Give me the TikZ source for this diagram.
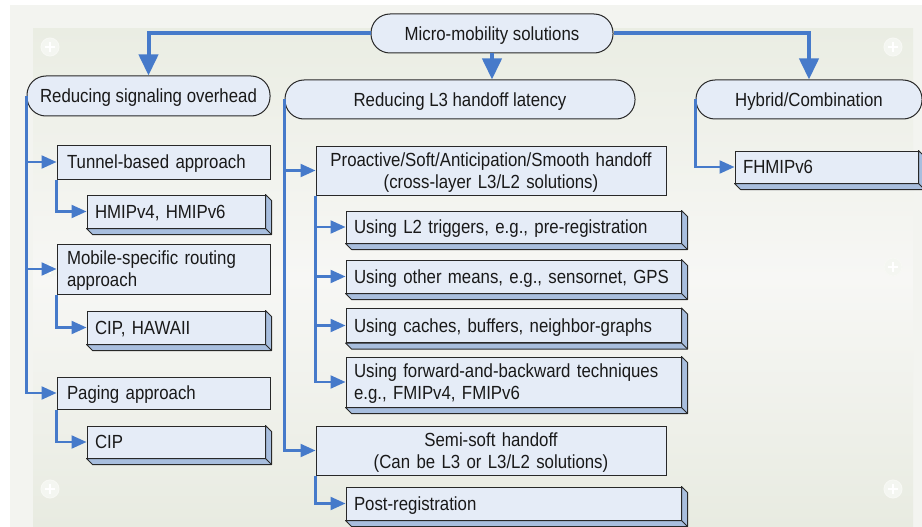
\documentclass[tikz,border=0pt]{standalone}
\usepackage{fontspec}
\setmainfont{Liberation Sans}[FakeStretch=0.885]
\usetikzlibrary{arrows.meta,calc}

\definecolor{linkblue}{RGB}{70,122,202}
\definecolor{facefill}{RGB}{229,236,247}
\definecolor{sidefill}{RGB}{168,190,222}
\definecolor{edgegray}{RGB}{40,40,40}
\definecolor{panelout}{RGB}{243,244,240}
\definecolor{paneltop}{RGB}{234,237,227}
\definecolor{panelmid}{RGB}{247,247,245}
\definecolor{panelbot}{RGB}{232,235,225}

\tikzset{
  every node/.style={font=\fontsize{19}{22}\selectfont, text=black!90, text depth=0pt},
  twolines/.style={text depth=22pt},
  topbox/.style={draw=edgegray, line width=1pt, fill=facefill, rounded corners=19pt,
    inner sep=0pt, align=center},
  flatbox/.style={draw=edgegray, line width=1pt, fill=facefill, inner xsep=10pt,
    inner ysep=0pt, align=left},
  centerbox/.style={draw=edgegray, line width=1pt, fill=facefill, inner xsep=10pt,
    inner ysep=0pt, align=center},
  slab/.style={draw=edgegray, line width=1pt, fill=facefill, inner xsep=8pt,
    inner ysep=0pt, align=left},
  mainlink/.style={draw=linkblue, line width=4pt, -{Triangle[length=21pt,width=19pt]}},
  sublink/.style={draw=linkblue, line width=2.2pt, -{Triangle[length=15pt,width=13pt]}},
  depthface/.style={fill=sidefill, draw=edgegray, line width=1pt, line join=round},
  deco/.style={fill=white!50!paneltop, draw=white!60!paneltop, line width=1pt},
}

% raised edge of a box: bottom and right faces pushed 6px down-right
\newcommand\slabdepth[1]{%
  \draw[depthface] (#1.south west) -- ([shift={(6,6)}]#1.south west)
    -- ([shift={(6,6)}]#1.south east) -- ([shift={(6,6)}]#1.north east)
    -- (#1.north east) -- (#1.south east) -- cycle;
  \draw[edgegray, line width=1pt] (#1.south east) -- ([shift={(6,6)}]#1.south east);
}

\begin{document}
\begin{tikzpicture}[x=1pt, y=-1pt]
  % page and panel
  \useasboundingbox (0,0) rectangle (922,527);
  \fill[white] (0,0) rectangle (922,527);
  \fill[panelout] (10,5) rectangle (922,527);
  \shade[top color=paneltop, bottom color=panelbot, middle color=panelmid]
    (33,29) rectangle (913,527);

  % faint round ornaments on the panel
  \foreach \px/\py in {50/47, 893/47, 50/269, 893/267, 50/489, 893/489}{
    \fill[deco] (\px,\py) circle (9);
    \draw[white, line width=1.6pt] (\px-5,\py) -- (\px+5,\py) (\px,\py-5) -- (\px,\py+5);
  }

  % top level
  \node[topbox, minimum width=242pt, minimum height=39pt] (micro) at (492,33.5) {Micro-mobility solutions};
  \node[topbox, minimum width=243pt, minimum height=40pt] (rso) at (148.5,96) {Reducing signaling overhead};
  \node[topbox, minimum width=350pt, minimum height=39pt] (rl3) at (460,99.5) {Reducing L3 handoff latency};
  \node[topbox, minimum width=226pt, minimum height=39pt] (hyb) at (809,99.5) {Hybrid/Combination};

  % left column
  \node[flatbox, text width=193pt, minimum height=34pt] (tunnel) at (163.5,162) {Tunnel-based approach};
  \node[slab, text width=162pt, minimum height=33pt] (hmip) at (176,211.5) {HMIPv4, HMIPv6};
  \node[flatbox, twolines, text width=193pt, minimum height=50pt] (mobile) at (163.5,269) {Mobile-specific routing\\approach};
  \node[slab, text width=162pt, minimum height=33pt] (ciph) at (176,327.5) {CIP, HAWAII};
  \node[flatbox, text width=193pt, minimum height=32pt] (paging) at (163.5,393) {Paging approach};
  \node[slab, text width=162pt, minimum height=32pt] (cip) at (176,442) {CIP};

  % middle column
  \node[centerbox, twolines, text width=330pt, minimum height=49pt] (proactive) at (491,170.5)
    {Proactive/Soft/Anticipation/Smooth handoff\\(cross-layer L3/L2 solutions)};
  \node[slab, text width=319pt, minimum height=32pt] (ltwo) at (513.5,227) {Using L2 triggers, e.g., pre-registration};
  \node[slab, text width=319pt, minimum height=33pt] (other) at (513.5,276.5) {Using other means, e.g., sensornet, GPS};
  \node[slab, text width=319pt, minimum height=34pt] (caches) at (513.5,325.5) {Using caches, buffers, neighbor-graphs};
  \node[slab, twolines, text width=319pt, minimum height=50pt] (fwd) at (513.5,382) {Using forward-and-backward techniques\\e.g., FMIPv4, FMIPv6};
  \node[centerbox, twolines, text width=330pt, minimum height=49pt] (semi) at (491,450.5)
    {Semi-soft handoff\\(Can be L3 or L3/L2 solutions)};
  \node[slab, text width=319pt, minimum height=33pt] (post) at (513.5,503.5) {Post-registration};

  % right column
  \node[slab, text width=167pt, minimum height=32pt] (fh) at (826.5,167) {FHMIPv6};

  % raised edges
  \foreach \n in {hmip, ciph, cip, ltwo, other, caches, fwd, post, fh}{\slabdepth{\n}}

  % main links
  \draw[mainlink] (micro.west) -| (rso.north);
  \draw[mainlink] (micro.east) -| (hyb.north);
  \draw[mainlink] (micro.south) -- (micro.south |- rl3.north);

  % left branches
  \draw[sublink] (rso.west) |- (tunnel.west);
  \draw[sublink] (rso.west) |- (mobile.west);
  \draw[sublink] (rso.west) |- (paging.west);
  \draw[sublink] (tunnel.south west) |- (hmip.west);
  \draw[sublink] (mobile.south west) |- (ciph.west);
  \draw[sublink] (paging.south west) |- (cip.west);

  % middle branches
  \draw[sublink] (rl3.west) |- (proactive.west);
  \draw[sublink] (rl3.west) |- (semi.west);
  \draw[sublink] (proactive.south west) |- (ltwo.west);
  \draw[sublink] (proactive.south west) |- (other.west);
  \draw[sublink] (proactive.south west) |- (caches.west);
  \draw[sublink] (proactive.south west) |- (fwd.west);
  \draw[sublink] (semi.south west) |- (post.west);

  % right branch
  \draw[sublink] (hyb.west) |- (fh.west);
\end{tikzpicture}
\end{document}
